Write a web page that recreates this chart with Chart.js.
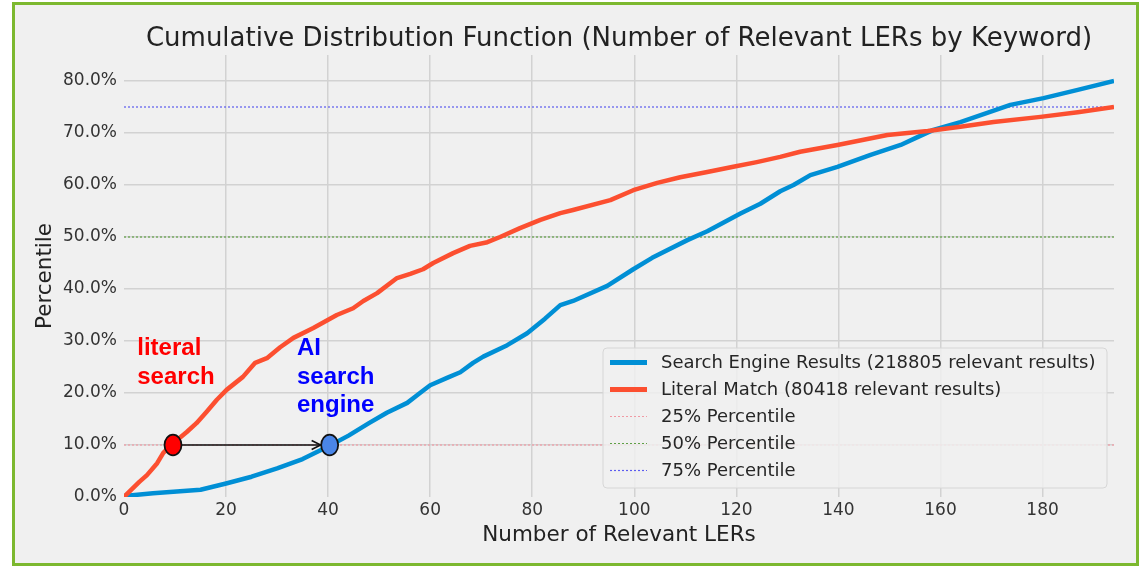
<!DOCTYPE html>
<html><head><meta charset="utf-8">
<script src="https://cdn.jsdelivr.net/npm/chart.js@4.4.0/dist/chart.umd.min.js"></script>
<style>
html,body{margin:0;padding:0;background:#fff;width:1141px;height:566px;overflow:hidden;}
#frame{position:absolute;left:12px;top:2px;width:1127px;height:564px;box-sizing:border-box;border:3.5px solid #7cb82f;background:#f0f0f0;}
#c{position:absolute;left:0;top:0;}
</style></head><body>
<div id="frame"></div>
<canvas id="c" width="1141" height="566"></canvas>
<script>
// ---- data ----
const chartTitle = 'Cumulative Distribution Function (Number of Relevant LERs by Keyword)';
const xAxisTitle = 'Number of Relevant LERs';
const yAxisTitle = 'Percentile';
const seriesLabels = ['Search Engine Results (218805 relevant results)', 'Literal Match (80418 relevant results)'];
const searchX = [0,5.7,11,15,20,25,30,35,40,44,48,51.5,55.5,58,60,63.3,65.9,68.4,70.4,75.1,79,82.5,85.5,88,94.7,99.8,103.5,110.4,114.3,120.8,124.7,128.6,131.2,134.5,139.8,146.3,152.2,155.5,158.6,163.9,173.7,180.2,186.9,194];
const searchY = [0.2,0.7,1.1,1.4,2.6,3.9,5.5,7.3,9.7,11.8,14.2,16.2,18.1,20,21.5,22.9,24,25.8,27,29.2,31.5,34.3,36.9,37.7,40.6,43.8,46,49.4,51.1,54.5,56.4,58.8,60,61.9,63.5,65.8,67.7,69.2,70.6,72.1,75.4,76.7,78.3,80];
const literalX = [0,1,3,4.5,6.5,7.7,9.7,12.3,14.2,16.2,18.2,20.1,23.3,25.7,28,30.6,33.2,37.1,41.7,44.9,46.9,49.6,53.5,56.1,58.6,60.6,64.5,67.8,71.2,73.7,77.6,81.6,85.5,88,95.3,99.8,104.5,109,114.3,119.4,124,128.6,132.5,139.8,149.6,157.5,163.9,170.4,179.6,186.9,194];
const literalY = [0,1.0,2.9,4.2,6.5,8.5,10.4,12.5,14.2,16.4,18.7,20.6,23.1,25.8,26.7,28.8,30.6,32.5,35,36.3,37.7,39.2,42.1,42.9,43.8,45,46.9,48.3,49.0,50,51.7,53.3,54.6,55.2,57.1,59.0,60.4,61.5,62.5,63.5,64.4,65.4,66.4,67.7,69.6,70.4,71.2,72.1,73.1,74.0,75.0];
const percentileLabels = ['25% Percentile','50% Percentile','75% Percentile'];
const percentileLevels = [10, 50, 75];
const xMin = 0, xMax = 194, yMin = 0, yMax = 85;
const xTickStep = 20, yTickStep = 10;
const markerX = [9.6, 40.3];
const markerY = [10, 10];
const noteLines = [['literal','search'], ['AI','search','engine']];
const noteX = [2.6, 33.9];
const noteY = [27.3, 27.3];

// ---- styles ----
const seriesColors = ['#008fd5', '#fc4f30'];
const percentileColors = ['#f09aa4', '#5f9f45', '#5b5bef'];
const markerColors = ['#ff0000', '#4a86e8'];
const noteColors = ['#ff0000', '#0000ff'];
const FONT = 'DejaVu Sans';

const toPts = (xs, ys) => xs.map((v, i) => ({x: v, y: ys[i]}));

const datasets = [
  {label: seriesLabels[1], data: toPts(literalX, literalY), borderColor: seriesColors[1], borderWidth: 4.5, order: 0},
  {label: seriesLabels[0], data: toPts(searchX, searchY), borderColor: seriesColors[0], borderWidth: 4.5, order: 1},
];
percentileLevels.forEach((lv, i) => {
  datasets.push({label: percentileLabels[i], data: [{x: xMin, y: lv}, {x: xMax, y: lv}],
    borderColor: percentileColors[i], borderWidth: 1.2, borderDash: [2, 2], order: 2});
});
datasets.forEach(d => { d.pointRadius = 0; d.tension = 0; d.fill = false; d.borderJoinStyle = 'round'; });

const overlay = {
  id: 'overlay',
  afterDatasetsDraw(chart) {
    const {ctx, scales: {x, y}} = chart;
    ctx.save();
    const px = markerX.map(v => x.getPixelForValue(v));
    const py = markerY.map(v => y.getPixelForValue(v));
    // arrow
    ctx.strokeStyle = '#111'; ctx.lineWidth = 1.6;
    const ax0 = px[0] + 8.5, ax1 = px[1] - 9;
    ctx.beginPath(); ctx.moveTo(ax0, py[0]); ctx.lineTo(ax1, py[1]); ctx.stroke();
    ctx.beginPath(); ctx.moveTo(ax1 - 9, py[1] - 4.5); ctx.lineTo(ax1, py[1]); ctx.lineTo(ax1 - 9, py[1] + 4.5); ctx.stroke();
    // markers
    px.forEach((p, i) => {
      ctx.beginPath(); ctx.ellipse(p, py[i], 8.5, 10.3, 0, 0, Math.PI * 2);
      ctx.fillStyle = markerColors[i]; ctx.fill();
      ctx.lineWidth = 1.8; ctx.strokeStyle = '#111'; ctx.stroke();
    });
    // notes
    ctx.font = 'bold 24px "Liberation Sans", Arial, sans-serif';
    ctx.textBaseline = 'alphabetic'; ctx.textAlign = 'left';
    noteLines.forEach((lines, i) => {
      const tx = x.getPixelForValue(noteX[i]), ty = y.getPixelForValue(noteY[i]);
      ctx.fillStyle = noteColors[i];
      lines.forEach((t, j) => ctx.fillText(t, tx, ty + j * 28.5));
    });
    ctx.restore();
  },
  afterDraw(chart) {
    const {ctx, chartArea} = chart;
    const w = 504, h = 140;
    const left = chartArea.right - 7 - w, top = chartArea.bottom - 9 - h;
    ctx.save();
    ctx.beginPath();
    ctx.roundRect(left, top, w, h, 4);
    ctx.fillStyle = 'rgba(240,240,240,0.85)'; ctx.fill();
    ctx.strokeStyle = '#d6d6d6'; ctx.lineWidth = 1; ctx.stroke();
    const items = [datasets[1], datasets[0], datasets[2], datasets[3], datasets[4]];
    ctx.font = '18px "' + FONT + '"';
    ctx.textBaseline = 'middle'; ctx.textAlign = 'left';
    items.forEach((d, i) => {
      const cy = top + 14.5 + i * 27;
      ctx.beginPath();
      ctx.strokeStyle = d.borderColor;
      ctx.lineWidth = d.borderWidth > 2 ? 5 : 1.2;
      ctx.setLineDash(d.borderDash || []);
      ctx.moveTo(left + 7, cy); ctx.lineTo(left + 44, cy); ctx.stroke();
      ctx.setLineDash([]);
      ctx.fillStyle = '#262626';
      ctx.fillText(d.label, left + 58, cy + 1);
    });
    ctx.restore();
  }
};

const gridColor = c => (c.tick && c.tick.value === 0) ? 'rgba(0,0,0,0)' : '#d2d2d2';

new Chart(document.getElementById('c'), {
  type: 'line',
  data: {datasets},
  options: {
    responsive: false, animation: false, devicePixelRatio: 1,
    layout: {padding: {left: 20, right: 27, top: 0, bottom: 10}},
    plugins: {
      legend: {display: false}, tooltip: {enabled: false},
      title: {display: true, text: chartTitle, fullSize: false, color: '#222',
        font: {family: FONT, size: 26, weight: 'normal'}, padding: {top: 23.5, bottom: 0.3}}
    },
    scales: {
      x: {type: 'linear', min: xMin, max: xMax, border: {display: false},
        grid: {color: gridColor, lineWidth: 1.5, drawTicks: false},
        ticks: {stepSize: xTickStep, includeBounds: false, padding: 3, color: '#333', font: {family: FONT, size: 17}},
        title: {display: true, text: xAxisTitle, color: '#222', font: {family: FONT, size: 21.5}, padding: {top: 0, bottom: 8}},
        afterFit(s) { s.height = 59; }
      },
      y: {type: 'linear', min: yMin, max: yMax, border: {display: false},
        grid: {color: gridColor, lineWidth: 1.5, drawTicks: false},
        ticks: {stepSize: yTickStep, includeBounds: false, padding: 7, color: '#333', font: {family: FONT, size: 17},
          callback: v => v.toFixed(1) + '%'},
        title: {display: true, text: yAxisTitle, color: '#222', font: {family: FONT, size: 21.5}, padding: {top: 13, bottom: 0}},
        afterFit(s) { s.width = 104; }
      }
    }
  },
  plugins: [overlay]
});
</script>
</body></html>
